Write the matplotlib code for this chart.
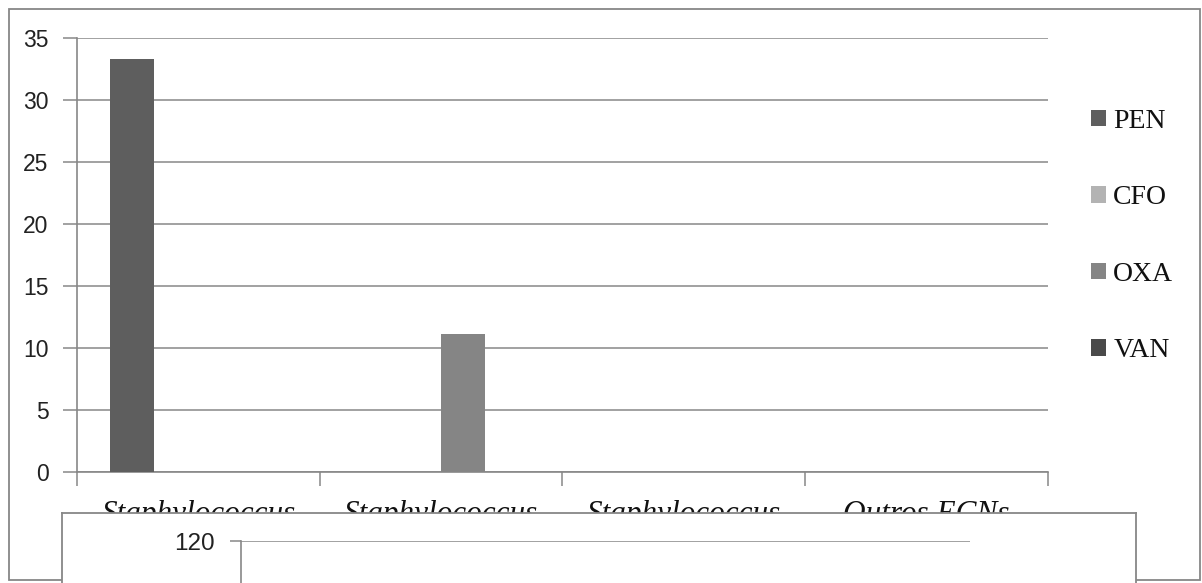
import numpy as np
from matplotlib import pyplot as plt
from matplotlib.patches import Rectangle

# bacterial groups and resistance (%) per antibiotic
categories = ["Staphylococcus", "Staphylococcus", "Staphylococcus", "Outros ECNs"]
antibiotics = ["PEN", "CFO", "OXA", "VAN"]
pen = [33.3, 0, 0, 0]
cfo = [0, 0, 0, 0]
oxa = [0, 11.1, 0, 0]
van = [0, 0, 0, 0]
series = [pen, cfo, oxa, van]
bar_colors = ["#5e5e5e", "#b3b3b3", "#858585", "#4a4a4a"]
y_ticks = [0, 5, 10, 15, 20, 25, 30, 35]
second_ticks = [120]

line_col = "#878787"
tick_sz = 16.5
cat_sz = 22.5
legend_sz = 20

W, H = 1202, 583
fig = plt.figure(figsize=(W / 100, H / 100), dpi=100)

# outer frame of the chart area
fig.patches.append(Rectangle((9 / W, 1 - 580 / H), (1200 - 9) / W, (580 - 9) / H,
                             transform=fig.transFigure, fill=False,
                             edgecolor=line_col, linewidth=1.3, zorder=0.5))

ax = fig.add_axes([77 / W, 1 - 472 / H, (1048 - 77) / W, (472 - 38) / H])
n = len(categories)
bw = 1 / 5.5
x = np.arange(n)
for i, (vals, col, lab) in enumerate(zip(series, bar_colors, antibiotics)):
    ax.bar(x - 0.5 + 0.75 * bw + i * bw, vals, width=bw, align="edge",
           color=col, label=lab, zorder=3)

ax.set_xlim(-0.5, n - 0.5)
ax.set_ylim(0, 35)
ax.set_yticks(y_ticks)
ax.set_yticklabels([str(v) for v in y_ticks], fontsize=tick_sz,
                   family="Liberation Sans", color="#222222")
ax.set_xticks(x)
ax.set_xticklabels(categories, fontsize=cat_sz, family="Liberation Serif",
                   style="italic", color="#111111")
ax.set_xticks(np.arange(n + 1) - 0.5, minor=True)
ax.tick_params(axis="x", which="major", length=0, pad=20)
ax.tick_params(axis="x", which="minor", length=10, width=1.1, color=line_col,
               direction="out")
ax.tick_params(axis="y", length=10, width=1.1, color=line_col, pad=10.5)
ax.yaxis.grid(True, color=line_col, linewidth=1.1, zorder=0)
ax.set_axisbelow(True)
for s in ["top", "right"]:
    ax.spines[s].set_visible(False)
for s in ["left", "bottom"]:
    ax.spines[s].set_color(line_col)
    ax.spines[s].set_linewidth(1.2)

leg = fig.legend(loc="center left", bbox_to_anchor=(1066 / W, 1 - 236 / H),
                 frameon=False, handlelength=0.55, handleheight=0.55,
                 handletextpad=0.25, labelspacing=1.85,
                 prop={"family": "Liberation Serif", "size": legend_sz})
for t in leg.get_texts():
    t.set_color("#111111")

# second chart sitting on top, only its upper edge shows
ov = fig.add_axes([62 / W, -0.3, (1136 - 62) / W, 0.3 + 1 - 513 / H], zorder=2)
ov.set_facecolor("white")
ov.set_xticks([])
ov.set_yticks([])
for s in ov.spines.values():
    s.set_color(line_col)
    s.set_linewidth(1.3)

ax2 = fig.add_axes([241 / W, -0.3, (970 - 241) / W, 0.3 + 1 - 541 / H], zorder=3)
ax2.patch.set_alpha(0)
ax2.set_ylim(0, 120)
ax2.set_yticks(second_ticks)
ax2.set_yticklabels([str(v) for v in second_ticks], fontsize=tick_sz + 1,
                    family="Liberation Sans", color="#222222")
ax2.set_xticks([])
ax2.tick_params(axis="y", length=8, width=1.1, color=line_col, pad=11)
ax2.yaxis.grid(True, color=line_col, linewidth=1.1)
for s in ["top", "right", "bottom"]:
    ax2.spines[s].set_visible(False)
ax2.spines["left"].set_color(line_col)
ax2.spines["left"].set_linewidth(1.2)

plt.savefig("out.png", dpi=100)
